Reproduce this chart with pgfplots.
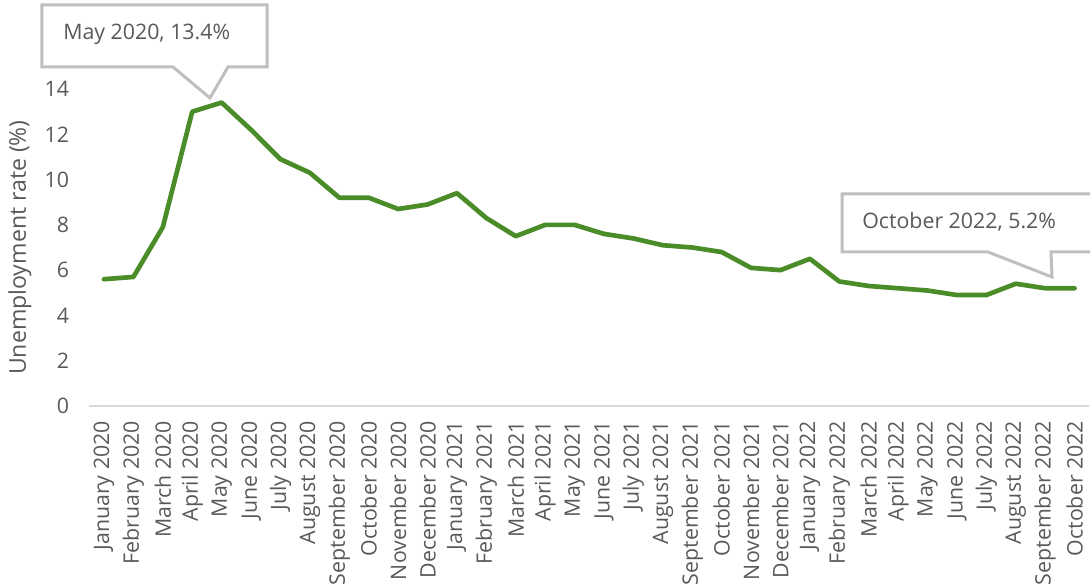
\documentclass[border=0pt]{standalone}
\usepackage{pgfplots}
\pgfplotsset{compat=1.18}
\usepackage{fontspec}
\setmainfont{Open Sans}

\definecolor{linegreen}{RGB}{74,140,40}
\definecolor{txtgray}{RGB}{89,89,89}
\definecolor{axgray}{RGB}{217,217,217}
\definecolor{boxgray}{RGB}{191,191,191}

\begin{document}
\begin{tikzpicture}
\begin{axis}[
  scale only axis, width=750pt, height=237.75pt,
  xmin=-0.5, xmax=33.5, ymin=0, ymax=14,
  axis x line*=bottom, axis y line*=left,
  x axis line style={-, axgray, line width=1.5pt},
  y axis line style={draw=none},
  major tick length=0pt,
  font=\fontsize{16}{18}\selectfont,
  ytick={0,2,...,14},
  yticklabel style={color=txtgray, anchor=east, inner sep=0pt, xshift=-15pt},
  /pgf/number format/assume math mode=true,
  xtick={0,...,33},
  xticklabels={January 2020, February 2020, March 2020, April 2020, May 2020, June 2020, July 2020, August 2020, September 2020, October 2020, November 2020, December 2020, January 2021, February 2021, March 2021, April 2021, May 2021, June 2021, July 2021, August 2021, September 2021, October 2021, November 2021, December 2021, January 2022, February 2022, March 2022, April 2022, May 2022, June 2022, July 2022, August 2022, September 2022, October 2022},
  xticklabel style={color=txtgray, yshift=-11pt, rotate=90, anchor=east, inner sep=0pt},
  ylabel={Unemployment rate (\%)},
  every axis y label/.style={at={(axis description cs:-0.0693,0.5)}, rotate=90, anchor=center, color=txtgray, font=\fontsize{17.3}{20}\selectfont},
  clip=false,
]
\addplot[linegreen, line width=3.5pt, line join=round, line cap=round] coordinates {
  (0,5.6) (1,5.7) (2,7.9) (3,13.0) (4,13.4) (5,12.2) (6,10.9) (7,10.3)
  (8,9.2) (9,9.2) (10,8.7) (11,8.9) (12,9.4) (13,8.3) (14,7.5) (15,8.0)
  (16,8.0) (17,7.6) (18,7.4) (19,7.1) (20,7.0) (21,6.8) (22,6.1) (23,6.0)
  (24,6.5) (25,5.5) (26,5.3) (27,5.2) (28,5.1) (29,4.9) (30,4.9) (31,5.4)
  (32,5.2) (33,5.2)
};
\end{axis}
% pixel frame: origin at image top-left, 1px = 0.75pt
\begin{scope}[shift={([xshift=-66.975pt,yshift=66.75pt]current axis.north west)}, x=0.75pt, y=-0.75pt]
  \draw[boxgray, fill=white, line width=2.25pt, line join=miter]
    (42,5) -- (267,5) -- (267,67) -- (228,67) -- (210,98) -- (173,67) -- (42,67) -- cycle;
  \node[txtgray, anchor=west, inner sep=0pt, font=\fontsize{16}{18}\selectfont] at (63,34) {May 2020, 13.4\%};
  \draw[boxgray, fill=white, line width=2.25pt, line join=miter]
    (842,194) -- (1100,194) -- (1100,252) -- (1051,252) -- (1052,277) -- (988,252) -- (842,252) -- cycle;
  \node[txtgray, anchor=west, inner sep=0pt, font=\fontsize{16}{18}\selectfont] at (862,222) {October 2022, 5.2\%};
  \pgfresetboundingbox
  \path[use as bounding box] (0,0) rectangle (1090,586);
\end{scope}
\end{tikzpicture}
\end{document}
